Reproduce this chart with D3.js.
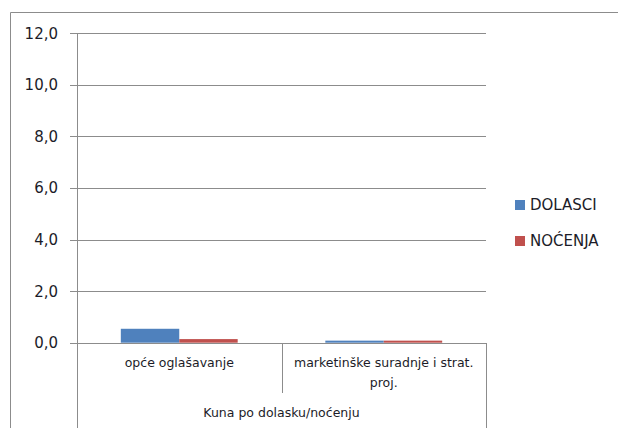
<!DOCTYPE html>
<html>
<head>
<meta charset="utf-8">
<script src="https://cdn.jsdelivr.net/npm/d3@7/dist/d3.min.js"></script>
<style>
  html, body { margin: 0; padding: 0; background: #fff; }
  svg { display: block; }
  text { font-family: "DejaVu Sans", Verdana, sans-serif; fill: #1c1c28; }
</style>
</head>
<body>
<svg id="chart" width="618" height="428"></svg>
<script>
// Kuna po dolasku / noćenju, by promotion type
const categories = ["opće oglašavanje", "marketinške suradnje i strat. proj."];
const categoryLines = [["opće oglašavanje"], ["marketinške suradnje i strat.", "proj."]];
const seriesNames = ["DOLASCI", "NOĆENJA"];
const dolasci = [0.54, 0.08];
const nocenja = [0.14, 0.08];
const yTicks = [0, 2, 4, 6, 8, 10, 12];
const groupLabel = "Kuna po dolasku/noćenju";

const colors = ["#4F81BD", "#C0504D"];
const series = [dolasci, nocenja];

const svg = d3.select("#chart");
const W = 618, H = 428;
const plot = { left: 77, right: 486, top: 33.3, bottom: 342.7 };

// outer chart frame
svg.append("path")
  .attr("d", `M10.5,${H} V12.5 H${W}`)
  .attr("fill", "none").attr("stroke", "#8c8c8c").attr("stroke-width", 1);

const y = d3.scaleLinear().domain([0, 12]).range([plot.bottom, plot.top]);
const x0 = d3.scaleBand().domain(categories).range([plot.left, plot.right]);
// two touching bars per group, 150% gap between groups
const barW = x0.bandwidth() / (2 + 1.5);
const groupOffset = (x0.bandwidth() - 2 * barW) / 2;

// gridlines with left tick stubs
svg.append("g")
  .selectAll("line")
  .data(yTicks)
  .join("line")
  .attr("x1", plot.left - 7).attr("x2", plot.right)
  .attr("y1", d => Math.round(y(d)) + 0.5).attr("y2", d => Math.round(y(d)) + 0.5)
  .attr("stroke", "#8c8c8c").attr("stroke-width", 1);

// y tick labels
svg.append("g")
  .selectAll("text")
  .data(yTicks)
  .join("text")
  .attr("x", 58).attr("y", d => y(d))
  .attr("dy", "0.36em")
  .attr("text-anchor", "end")
  .attr("font-size", 15)
  .text(d => d3.format(".1f")(d).replace(".", ","));

// bars
const groups = svg.append("g")
  .selectAll("g")
  .data(categories)
  .join("g")
  .attr("transform", c => `translate(${x0(c)},0)`);

groups.selectAll("rect")
  .data((c, i) => series.map((s, k) => ({ k, v: s[i] })))
  .join("rect")
  .attr("x", d => groupOffset + d.k * barW)
  .attr("width", barW)
  .attr("y", d => y(d.v))
  .attr("height", d => y(0) - y(d.v))
  .attr("fill", d => colors[d.k]);

// left axis line and category dividers
svg.append("line")
  .attr("x1", plot.left + 0.5).attr("x2", plot.left + 0.5)
  .attr("y1", plot.top).attr("y2", H)
  .attr("stroke", "#8c8c8c");
svg.append("line")
  .attr("x1", plot.right + 0.5).attr("x2", plot.right + 0.5)
  .attr("y1", Math.round(y(0))).attr("y2", H)
  .attr("stroke", "#8c8c8c");
svg.append("line")
  .attr("x1", Math.round(x0(categories[1])) + 0.5).attr("x2", Math.round(x0(categories[1])) + 0.5)
  .attr("y1", Math.round(y(0))).attr("y2", 393)
  .attr("stroke", "#8c8c8c");

// category labels
categories.forEach((c, i) => {
  const cx = x0(c) + x0.bandwidth() / 2;
  const t = svg.append("text")
    .attr("x", cx)
    .attr("y", 367)
    .attr("text-anchor", "middle")
    .attr("font-size", 12.5);
  categoryLines[i].forEach((line, j) => {
    t.append("tspan")
      .attr("x", cx)
      .attr("dy", j === 0 ? 0 : 20)
      .text(line);
  });
});

svg.append("text")
  .attr("x", (plot.left + plot.right) / 2)
  .attr("y", 417)
  .attr("text-anchor", "middle")
  .attr("font-size", 12.5)
  .text(groupLabel);

// legend
const legend = svg.append("g")
  .selectAll("g")
  .data(seriesNames)
  .join("g")
  .attr("transform", (d, i) => `translate(515,${205 + i * 36})`);
legend.append("rect")
  .attr("x", 0).attr("y", -5).attr("width", 10).attr("height", 10)
  .attr("fill", (d, i) => colors[i]);
legend.append("text")
  .attr("x", 15).attr("y", 0).attr("dy", "0.36em")
  .attr("font-size", 15)
  .text(d => d);
</script>
</body>
</html>
